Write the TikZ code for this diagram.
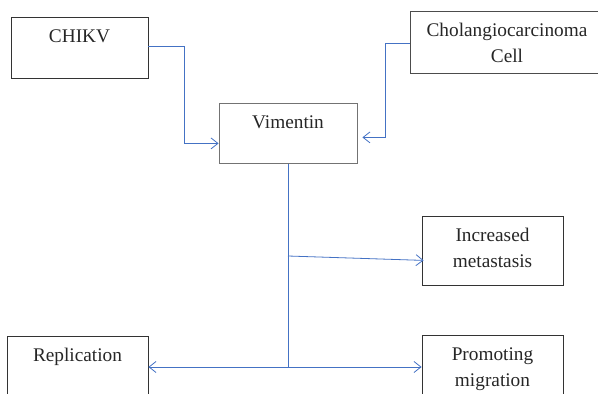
\documentclass[tikz,border=0pt]{standalone}
\usepackage{fontspec}
\setmainfont{Liberation Serif}
\usetikzlibrary{arrows.meta}
\definecolor{linkblue}{RGB}{68,114,196}
\begin{document}
\begin{tikzpicture}[x=1pt, y=-1pt,
		box/.style={draw=black!80, line width=0.8pt, anchor=north, align=center,
			minimum width=#1, inner xsep=2pt, inner ysep=11pt, text height=14pt,
			text=black!85, font=\fontsize{19.3}{26}\selectfont},
		twolines/.style={text height=40pt},
		link/.style={draw=linkblue, line width=0.8pt, >={Straight Barb[length=7pt, width=11pt]}}]

				\useasboundingbox (0,0) rectangle (598,394);

				\node [box=137pt, text depth=25pt] (chikv) at (79.5,17) {CHIKV};
				\node [box=194pt, twolines, text depth=-2pt, draw=black!70] (chol) at (507,11) {Cholangiocarcinoma\\Cell};
				\node [box=138pt, text depth=24pt, draw=black!55] (vim) at (288,103) {Vimentin};
				\node [box=141pt, twolines, text depth=7pt] (meta) at (492.5,216) {Increased\\metastasis};
				\node [box=141pt, text depth=33pt] (repl) at (77.5,336) {Replication};
				\node [box=141pt, twolines, text depth=7pt] (prom) at (492.5,335) {Promoting\\migration};

				\coordinate (split) at (vim.south |- 0,256);
				\coordinate (bottom) at (vim.south |- 0,367);

				\draw [link, ->] ([yshift=1.5pt]chikv.east) -- ++(36,0) |- ([yshift=-10pt]vim.west);
				\draw [link, ->] ([yshift=-1pt]chol.west) -- ++(-24,0) |- ([xshift=5pt, yshift=-4pt]vim.east);
				\draw [link] (vim.south) -- (bottom);
				\draw [link, ->] (split) -- ([xshift=2pt, yshift=-9.5pt]meta.west);
				\draw [link, ->] (bottom) -- (repl.east |- bottom);
				\draw [link, ->] (bottom) -- (prom.west |- bottom);

			\end{tikzpicture}
\end{document}
